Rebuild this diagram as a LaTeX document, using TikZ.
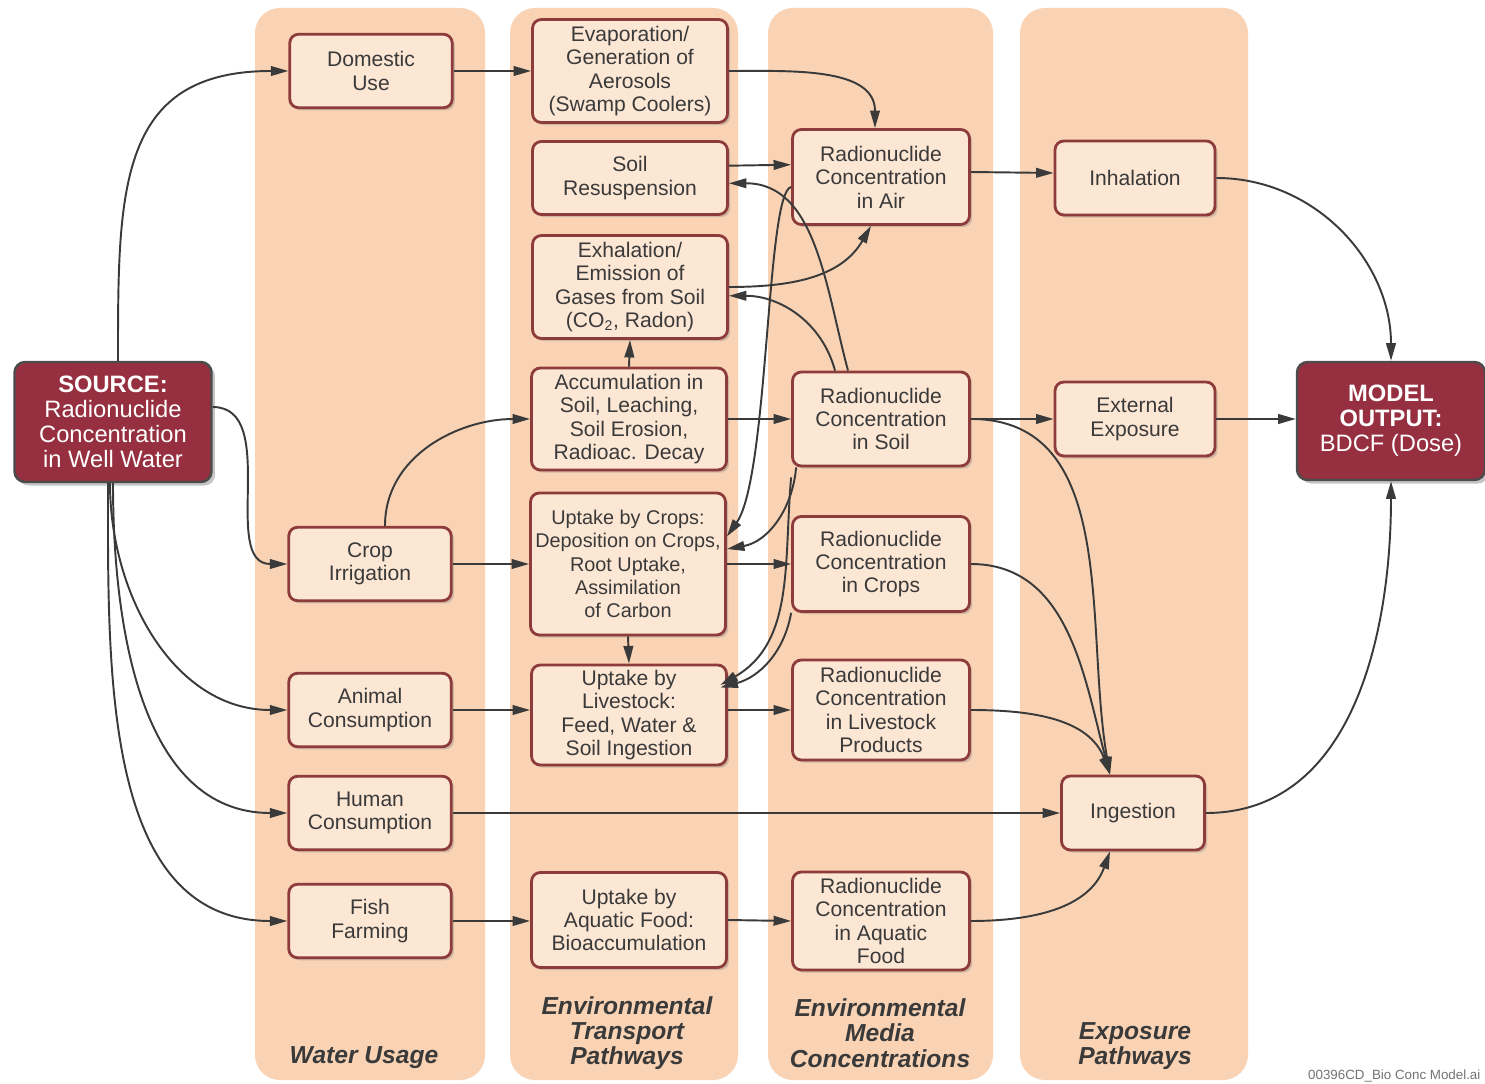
\documentclass[tikz,border=0pt]{standalone}
\usepackage{fontspec}
\setmainfont{Liberation Sans}
\usetikzlibrary{arrows.meta}
\usetikzlibrary{shadows}
\definecolor{panel}{HTML}{F9D3B4}
\definecolor{boxfill}{HTML}{FCE6D4}
\definecolor{boxline}{HTML}{8E3B3B}
\definecolor{srcred}{HTML}{963040}
\definecolor{ink}{HTML}{3A3A3A}

\begin{document}
\begin{tikzpicture}[x=0.02cm,y=-0.02cm,
	box/.style={draw=boxline, line width=1.6pt, fill=boxfill, rounded corners=5pt, align=center, text=ink, inner sep=1pt, font=\fontsize{12}{13.3}\selectfont, drop shadow={shadow xshift=1.5pt, shadow yshift=-1.5pt, opacity=.35}},
	wbox/.style={box, minimum width=3.25cm, minimum height=1.47cm},
	tbox/.style={box, minimum width=3.9cm},
	mbox/.style={box, minimum width=3.54cm},
	ebox/.style={box, minimum height=1.48cm},
	endbox/.style={draw=black!70, line width=1.4pt, fill=srcred, rounded corners=6pt, align=center, text=white, inner sep=1pt, font=\fontsize{13.5}{14.2}\selectfont, drop shadow={shadow xshift=2pt, shadow yshift=-2pt, opacity=.45}},
	colhead/.style={align=center, text=ink, font=\fontsize{14}{14.4}\selectfont\bfseries\itshape},
	flow/.style={draw=ink, line width=1.1pt, -{Triangle[length=10pt,width=5.5pt]}}]
			\useasboundingbox[fill=white] (0,0) rectangle (1485,1084);
			\fill[panel, rounded corners=0.5cm] (255,8) rectangle (485,1080);
			\fill[panel, rounded corners=0.5cm] (510,8) rectangle (738,1080);
			\fill[panel, rounded corners=0.5cm] (768,8) rectangle (993,1080);
			\fill[panel, rounded corners=0.5cm] (1020,8) rectangle (1248,1080);
			\node[colhead] (hwat) at (364,1058){Water Usage};
			\node[colhead] (htra) at (627,1033){Environmental\\Transport\\Pathways};
			\node[colhead] (hmed) at (880,1033){Environmental\\Media\\Concentrations};
			\node[colhead] (hexp) at (1135,1046){Exposure\\Pathways};
			\node[anchor=west, text=black!55, font=\fontsize{7.6}{8}\selectfont] (tag) at (1302,1076){00396CD\_Bio Conc Model.ai};
			\node[endbox, minimum width=3.94cm, minimum height=2.4cm] (src) at (113,422){\textbf{SOURCE:}\\Radionuclide\\Concentration\\in Well Water};
			\node[endbox, minimum width=3.76cm, minimum height=2.36cm] (out) at (1391,421){\textbf{MODEL}\\\textbf{OUTPUT:}\\BDCF (Dose)};
			\node[wbox] (dom) at (371,71){Domestic\\Use};
			\node[wbox] (cir) at (370,564){Crop\\Irrigation};
			\node[wbox] (ani) at (370,710){Animal\\Consumption};
			\node[wbox] (hum) at (370,813){Human\\Consumption};
			\node[wbox] (fsh) at (370,921){Fish\\Farming};
			\node[tbox, minimum height=2.06cm] (evp) at (630,71){Evaporation/\\Generation of\\Aerosols\\(Swamp Coolers)};
			\node[tbox, minimum height=1.46cm] (res) at (630,178){Soil\\Resuspension};
			\node[tbox, minimum height=2.06cm] (exh) at (630,287){Exhalation/\\Emission of\\Gases from Soil\\(CO\textsubscript{2}, Radon)};
			\node[tbox, minimum height=2.04cm] (acc) at (629,419){Accumulation in\\Soil, Leaching,\\Soil Erosion,\\Radioac. Decay};
			\node[tbox, minimum height=2.84cm, font=\fontsize{11.3}{13.3}\selectfont] (ucr) at (628,564){Uptake by Crops:\\Deposition on Crops,\\Root Uptake,\\Assimilation\\of Carbon};
			\node[tbox, minimum height=2.0cm] (liv) at (629,715){Uptake by\\Livestock:\\Feed, Water \&\\Soil Ingestion};
			\node[tbox, minimum height=1.9cm] (uaq) at (629,920){Uptake by\\Aquatic Food:\\Bioaccumulation};
			\node[mbox, minimum height=1.9cm] (air) at (881,177){Radionuclide\\Concentration\\in Air};
			\node[mbox, minimum height=1.88cm] (soi) at (881,419){Radionuclide\\Concentration\\in Soil};
			\node[mbox, minimum height=1.9cm] (ccr) at (881,564){Radionuclide\\Concentration\\in Crops};
			\node[mbox, minimum height=2.0cm] (cls) at (881,710){Radionuclide\\Concentration\\in Livestock\\Products};
			\node[mbox, minimum height=1.96cm] (caq) at (881,921){Radionuclide\\Concentration\\in Aquatic\\Food};
			\node[ebox, minimum width=3.2cm] (inh) at (1135,178){Inhalation};
			\node[ebox, minimum width=3.2cm] (ext) at (1135,419){External\\Exposure};
			\node[ebox, minimum width=2.86cm] (ing) at (1133,813){Ingestion};
			\draw[flow] ([xshift=0.1cm]src.north) to[out=90,in=180,looseness=1.3] (dom.west);
			\draw[flow] ([yshift=0.3cm]src.east) to[out=0,in=180] (cir.west);
			\draw[flow] ([xshift=-0.06cm]src.south) to[out=-90,in=180] (ani.west);
			\draw[flow] (src.south) to[out=-90,in=180] (hum.west);
			\draw[flow] ([xshift=-0.1cm]src.south) to[out=-90,in=180] (fsh.west);
			\draw[flow] (dom.east) -- (evp.west);
			\draw[flow] ([xshift=0.3cm]cir.north) to[out=90,in=180] (acc.west);
			\draw[flow] (cir.east) -- (ucr.west);
			\draw[flow] (ani.east) -- (liv.west |- ani.east);
			\draw[flow] (fsh.east) -- (uaq.west |- fsh.east);
			\draw[flow] (hum.east) -- (ing.west);
			\draw[flow] (evp.east) to[out=0,in=90] ([xshift=-0.12cm]air.north);
			\draw[flow] ([yshift=7pt]res.east) -- ([yshift=7pt]air.west);
			\draw[flow] (exh.east) to[out=0,in=-120] ([xshift=-0.2cm]air.south);
			\draw[flow] (acc.north) -- (exh.south);
			\draw[flow] (acc.east) -- (soi.west);
			\draw[flow] (ucr.east) -- (ccr.west);
			\draw[flow] (ucr.south) -- (liv.north);
			\draw[flow] (liv.east |- cls.west) -- (cls.west);
			\draw[flow] (uaq.east) -- (caq.west);
			\draw[flow] ([yshift=-0.2cm]air.west) .. controls +(-25,5) and +(42,-60) .. ([yshift=0.55cm]ucr.east);
			\draw[flow] ([xshift=-0.66cm]soi.north) to[out=105,in=0] ([yshift=-3pt]res.east);
			\draw[flow] ([xshift=-0.92cm]soi.north) to[out=105,in=0] ([yshift=-5pt]exh.east);
			\draw[flow] ([xshift=0.1cm]soi.south west) to[out=-95,in=10] ([yshift=0.3cm]ucr.east);
			\draw[flow] ([yshift=-0.2cm]soi.south west) to[out=-95,in=30] ([xshift=-0.15cm,yshift=0.6cm]liv.east);
			\draw[flow] (ccr.south west) to[out=-100,in=15] ([xshift=-0.15cm,yshift=0.55cm]liv.east);
			\draw[flow] ([yshift=0.1cm]air.east) -- ([yshift=0.1cm]inh.west);
			\draw[flow] (soi.east) -- (ext.west);
			\draw[flow] (soi.east) to[out=0,in=100] ([xshift=-0.46cm]ing.north);
			\draw[flow] (ccr.east) to[out=0,in=105] ([xshift=-0.46cm]ing.north);
			\draw[flow] (cls.east) to[out=0,in=110] ([xshift=-0.46cm]ing.north);
			\draw[flow] (caq.east) to[out=0,in=-110] ([xshift=-0.46cm]ing.south);
			\draw[flow] (inh.east) to[out=0,in=90] (out.north);
			\draw[flow] (ext.east) -- (out.west |- ext.east);
			\draw[flow] (ing.east) to[out=0,in=-90] (out.south);
		\end{tikzpicture}
\end{document}
